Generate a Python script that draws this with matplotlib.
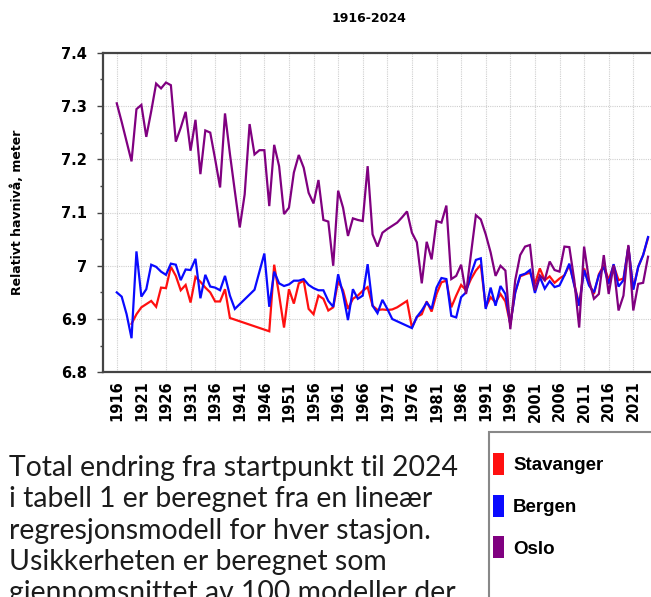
import numpy as np
import matplotlib
matplotlib.use("Agg")
import matplotlib.pyplot as plt
from matplotlib.patches import Rectangle

# data (relative sea level, metres)
oslo_years = list(range(1916, 2025))
oslo = [7.305, 7.270, 7.233, 7.196, 7.294, 7.302, 7.242, 7.290, 7.342, 7.333,
        7.344, 7.339, 7.233, 7.259, 7.289, 7.216, 7.274, 7.172, 7.254, 7.250,
        7.200, 7.147, 7.286, 7.210, 7.140, 7.072, 7.134, 7.266, 7.209, 7.217,
        7.217, 7.112, 7.227, 7.187, 7.097, 7.109, 7.175, 7.208, 7.184, 7.137,
        7.117, 7.161, 7.086, 7.083, 7.000, 7.141, 7.109, 7.056, 7.089, 7.086,
        7.084, 7.187, 7.059, 7.036, 7.062, 7.069, 7.075, 7.081, 7.091, 7.102,
        7.062, 7.044, 6.967, 7.045, 7.012, 7.084, 7.081, 7.113, 6.975, 6.981,
        7.002, 6.947, 7.022, 7.095, 7.087, 7.059, 7.025, 6.981, 7.000, 6.991,
        6.881, 6.973, 7.020, 7.036, 7.039, 6.954, 6.982, 6.973, 7.008, 6.992,
        6.989, 7.036, 7.035, 6.973, 6.884, 7.036, 6.973, 6.938, 6.947, 7.020,
        6.947, 7.001, 6.916, 6.944, 7.039, 6.916, 6.966, 6.968, 7.017]

bergen_years = (list(range(1916, 1941)) + [1944] + list(range(1946, 1973))
                + list(range(1976, 2025)))
bergen = [6.950, 6.942, 6.909, 6.864, 7.027, 6.942, 6.956, 7.002, 6.998, 6.989,
          6.983, 7.004, 7.002, 6.973, 6.993, 6.992, 7.013, 6.939, 6.983, 6.961,
          6.959, 6.954, 6.981, 6.944, 6.919,
          6.955,
          7.023, 6.923, 6.989, 6.967, 6.962, 6.965, 6.972, 6.972, 6.975, 6.964,
          6.958, 6.954, 6.954, 6.934, 6.923, 6.984, 6.947, 6.898, 6.956, 6.938,
          6.944, 7.003, 6.925, 6.911, 6.936, 6.919, 6.900,
          6.883, 6.904, 6.916, 6.931, 6.919, 6.959, 6.977, 6.975, 6.906, 6.903,
          6.941, 6.950, 6.984, 7.011, 7.014, 6.919, 6.959, 6.925, 6.962, 6.947,
          6.890, 6.950, 6.982, 6.985, 6.992, 6.949, 6.979, 6.957, 6.971, 6.960,
          6.963, 6.982, 7.004, 6.963, 6.925, 6.992, 6.963, 6.950, 6.982, 6.998,
          6.966, 7.003, 6.961, 6.973, 7.036, 6.955, 6.998, 7.020, 7.054]

stavanger_years = list(range(1919, 1940)) + list(range(1947, 2025))
stavanger = [6.891, 6.909, 6.922, 6.928, 6.934, 6.923, 6.959, 6.958, 6.998, 6.981,
             6.954, 6.964, 6.931, 6.979, 6.970, 6.959, 6.950, 6.933, 6.933, 6.956,
             6.902,
             6.877, 7.002, 6.945, 6.884, 6.956, 6.929, 6.967, 6.972, 6.919, 6.909,
             6.944, 6.938, 6.916, 6.922, 6.971, 6.954, 6.919, 6.938, 6.944, 6.953,
             6.960, 6.925, 6.917, 6.918, 6.917, 6.918, 6.922, 6.928, 6.934, 6.884,
             6.904, 6.909, 6.933, 6.914, 6.947, 6.969, 6.972, 6.922, 6.944, 6.964,
             6.954, 6.975, 6.991, 7.002, 6.922, 6.941, 6.931, 6.947, 6.933, 6.890,
             6.950, 6.980, 6.984, 6.987, 6.966, 6.995, 6.973, 6.980, 6.968, 6.976,
             6.982, 7.001, 6.966, 6.927, 6.995, 6.966, 6.947, 6.984, 7.001, 6.973,
             7.001, 6.973, 6.976, 7.036, 6.957, 6.998, 7.020, 7.052]

names = ["Stavanger", "Bergen", "Oslo"]
colors = ["#ff1010", "#0a0aff", "#800080"]
xticks = list(range(1916, 2025, 5))
yticks = [6.8, 6.9, 7.0, 7.1, 7.2, 7.3, 7.4]

W, H = 651, 597
fig = plt.figure(figsize=(W / 100, H / 100), dpi=100)
ax = fig.add_axes([103 / W, 1 - 372.3 / H, (W - 103) / W, (372.3 - 52.7) / H])

series = [(stavanger_years, stavanger), (bergen_years, bergen), (oslo_years, oslo)]
for (yrs, vals), c in zip(series, colors):
    ax.plot(yrs, vals, color=c, lw=1.6, solid_joinstyle="miter", zorder=3)

ax.set_xlim(1913.2, 2024.6)
ax.set_ylim(6.8, 7.4)
ax.set_xticks(xticks)
ax.set_xticklabels([str(x) for x in xticks], rotation=90, fontweight="bold",
                   fontsize=10.5, family="DejaVu Sans")
ax.set_yticks(yticks)
ax.set_yticklabels(["6.8", "6.9", "7", "7.1", "7.2", "7.3", "7.4"],
                   fontweight="bold", fontsize=10.5, family="DejaVu Sans")
ax.set_yticks(np.arange(6.85, 7.4, 0.1), minor=True)
ax.tick_params(axis="x", length=0, pad=6)
ax.tick_params(axis="y", which="major", length=4, width=1, color="#444444", pad=7.5)
ax.tick_params(axis="y", which="minor", length=2.5, width=1, color="#444444")
ax.grid(True, color="#cfcfcf", ls=(0, (1, 1)), lw=0.8)
ax.set_axisbelow(True)
for s in ["left", "top", "bottom"]:
    ax.spines[s].set_color("#444444")
    ax.spines[s].set_linewidth(1.6)
ax.spines["right"].set_visible(False)

fig.text(17 / W, 1 - 212 / H, "Relativt havnivå, meter", rotation=90,
         ha="center", va="center", fontweight="bold", fontsize=9)
fig.text(369 / W, 1 - 18 / H, "1916-2024", ha="center", va="center",
         fontweight="bold", fontsize=9)

para = ("Total endring fra startpunkt til 2024\n"
        "i tabell 1 er beregnet fra en lineær\n"
        "regresjonsmodell for hver stasjon.\n"
        "Usikkerheten er beregnet som\n"
        "gjennomsnittet av 100 modeller der")
fig.text(9 / W, 1 - 455 / H, para, ha="left", va="top", fontsize=20.4,
         family="Lato", color="#1c1c1c", linespacing=1.25)

# legend box (cut off by the right and bottom edges like the screenshot)
fig.add_artist(Rectangle((489 / W, -0.05), 0.5, 1 - 432 / H + 0.05,
                         transform=fig.transFigure, fill=False,
                         edgecolor="#888888", lw=1.5))
for i, (n, c) in enumerate(zip(names, colors)):
    yc = 464 + i * 41.5
    fig.add_artist(Rectangle((493 / W, 1 - (yc + 11) / H), 11 / W, 22 / H,
                             transform=fig.transFigure, color=c, lw=0))
    fig.text(513 / W, 1 - (yc + 2) / H, n, ha="left", va="center",
             fontweight="bold", fontsize=13.5, family="Liberation Sans")

fig.savefig("out.png", dpi=100)
